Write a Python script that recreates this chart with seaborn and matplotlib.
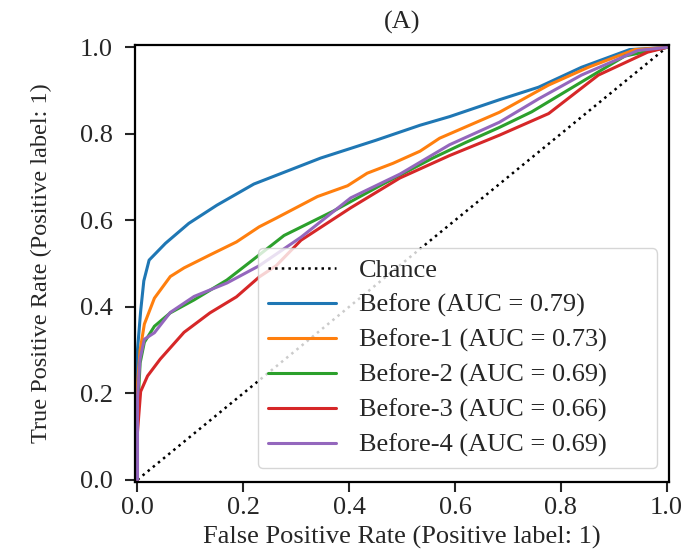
import numpy as np
import pandas as pd
import seaborn as sns
import matplotlib.pyplot as plt

# ROC points
fpr_before = [0, 0, 0.006, 0.012, 0.022, 0.053, 0.097, 0.15, 0.22, 0.346, 0.45, 0.534, 0.59, 0.684, 0.758, 0.839, 0.93, 1.0]
tpr_before = [0, 0.30, 0.39, 0.46, 0.508, 0.547, 0.593, 0.635, 0.684, 0.744, 0.785, 0.82, 0.84, 0.879, 0.908, 0.954, 0.995, 1.0]

fpr_before1 = [0, 0, 0.005, 0.013, 0.032, 0.062, 0.088, 0.137, 0.187, 0.23, 0.262, 0.34, 0.397, 0.434, 0.483, 0.534, 0.571, 0.684, 0.777, 0.852, 0.94, 1.0]
tpr_before1 = [0, 0.22, 0.30, 0.36, 0.42, 0.47, 0.49, 0.52, 0.55, 0.585, 0.605, 0.655, 0.68, 0.709, 0.732, 0.76, 0.79, 0.85, 0.913, 0.954, 0.995, 1.0]

fpr_before2 = [0, 0, 0.005, 0.013, 0.032, 0.062, 0.107, 0.169, 0.23, 0.277, 0.371, 0.464, 0.558, 0.62, 0.684, 0.745, 0.839, 0.921, 1.0]
tpr_before2 = [0, 0.15, 0.27, 0.318, 0.355, 0.386, 0.416, 0.462, 0.52, 0.565, 0.622, 0.684, 0.744, 0.78, 0.815, 0.851, 0.92, 0.98, 1.0]

fpr_before3 = [0, 0, 0.006, 0.019, 0.043, 0.088, 0.137, 0.187, 0.23, 0.262, 0.309, 0.403, 0.496, 0.59, 0.684, 0.777, 0.871, 0.964, 1.0]
tpr_before3 = [0, 0.11, 0.204, 0.24, 0.279, 0.341, 0.386, 0.423, 0.469, 0.495, 0.554, 0.629, 0.698, 0.75, 0.797, 0.847, 0.936, 0.989, 1.0]

fpr_before4 = [0, 0, 0.005, 0.013, 0.032, 0.062, 0.107, 0.169, 0.23, 0.309, 0.403, 0.496, 0.59, 0.684, 0.758, 0.839, 0.946, 1.0]
tpr_before4 = [0, 0.19, 0.28, 0.325, 0.34, 0.387, 0.424, 0.455, 0.495, 0.561, 0.652, 0.707, 0.775, 0.827, 0.881, 0.936, 0.993, 1.0]

labels = ["Before", "Before-1", "Before-2", "Before-3", "Before-4"]
aucs = [0.79, 0.73, 0.69, 0.66, 0.69]
fprs = [fpr_before, fpr_before1, fpr_before2, fpr_before3, fpr_before4]
tprs = [tpr_before, tpr_before1, tpr_before2, tpr_before3, tpr_before4]

# long-form table for seaborn
frames = []
for lab, auc, f, t in zip(labels, aucs, fprs, tprs):
    frames.append(pd.DataFrame({"fpr": f, "tpr": t,
                                "model": f"{lab} (AUC = {auc:.2f})"}))
df = pd.concat(frames, ignore_index=True)

sns.set_style("ticks")
plt.rcParams["font.family"] = ["Liberation Serif", "DejaVu Serif"]

fig, ax = plt.subplots(figsize=(6.95, 5.52), dpi=100)
fig.subplots_adjust(left=0.194, right=0.963, top=0.918, bottom=0.127)

ax.plot([0, 1], [0, 1], color="black", linestyle=":", linewidth=1.8, label="Chance")
sns.lineplot(data=df, x="fpr", y="tpr", hue="model", palette="tab10",
             sort=False, estimator=None, linewidth=2.2, ax=ax)

ax.set_xlim(-0.005, 1.005)
ax.set_ylim(-0.005, 1.005)
ax.set_xticks(np.arange(0, 1.01, 0.2))
ax.set_yticks(np.arange(0, 1.01, 0.2))
ax.tick_params(labelsize=19, length=7, width=1.5, direction="out")
ax.tick_params(axis="y", pad=9)
ax.tick_params(axis="x", pad=4)
for side in ["top", "right", "bottom", "left"]:
    ax.spines[side].set_visible(True)
    ax.spines[side].set_linewidth(1.6)
    ax.spines[side].set_color("black")

ax.set_xlabel("False Positive Rate (Positive label: 1)", fontsize=19, labelpad=5)
ax.set_ylabel("True Positive Rate (Positive label: 1)", fontsize=17.5, labelpad=20)
ax.set_title("(A)", fontsize=19, pad=12)

ax.legend(loc="lower left", bbox_to_anchor=(0.230, 0.032, 0.747, 0.5),
          mode="expand", borderaxespad=0, fontsize=19, labelspacing=0.42,
          handlelength=2.55, handletextpad=0.87,
          frameon=True, framealpha=0.8, edgecolor="0.8", fancybox=True)

plt.savefig("out.png", dpi=100)
